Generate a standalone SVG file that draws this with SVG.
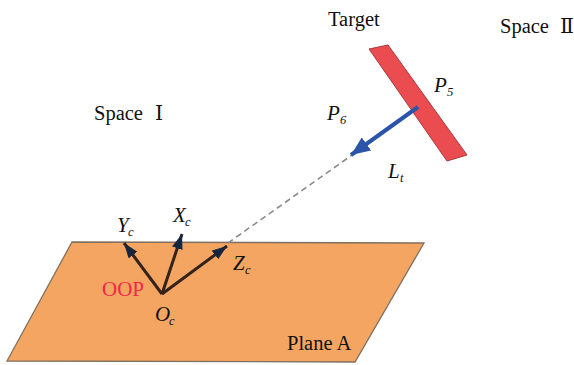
<svg xmlns="http://www.w3.org/2000/svg" width="574" height="365" viewBox="0 0 574 365">
<style>
text{font-family:"Liberation Serif","Times New Roman",serif;fill:#111}
.t{font-size:20.5px}
.i{font-size:21px;font-style:italic}
.s{font-size:12.5px;font-style:italic}
.r{font-family:"Liberation Serif","DejaVu Serif","Noto Sans CJK SC",serif}
.ax{stroke:#33231a;stroke-width:3;fill:none}
</style>
<defs>
<marker id="ah" markerUnits="userSpaceOnUse" markerWidth="16" markerHeight="12" refX="15" refY="6" orient="auto"><path d="M0 0.5L15 6L0 11.5Z" fill="#16263f"/></marker>
<marker id="bh" markerUnits="userSpaceOnUse" markerWidth="20" markerHeight="16" refX="19" refY="8" orient="auto"><path d="M0 0L19 8L0 16Z" fill="#2a55a8"/></marker>
</defs>
<rect width="574" height="365" fill="#fff"/>
<g id="plane-a"><polygon points="72,242 424,243 355,362 7,361" fill="#f4a561" stroke="#80705f" stroke-width="1.3"/><text class="t" x="287" y="350">Plane A</text></g>
<g id="target"><polygon points="369,49 388,45 467,155 447,161" fill="#ea4c50" stroke="#a8393d" stroke-width="1"/><text class="t" x="328" y="26">Target</text></g>
<g id="connectors">
<line x1="228" y1="243" x2="352" y2="155" stroke="#8a8a8a" stroke-width="1.6" stroke-dasharray="6 4"/>
<line x1="418" y1="107" x2="351" y2="155" stroke="#2a55a8" stroke-width="4" marker-end="url(#bh)"/>
<line class="ax" x1="162" y1="294" x2="124" y2="243" marker-end="url(#ah)"/>
<line class="ax" x1="162" y1="294" x2="182" y2="234" marker-end="url(#ah)"/>
<line class="ax" x1="162" y1="294" x2="227" y2="246" marker-end="url(#ah)"/>
</g>
<g id="space-1"><text class="t r" x="94" y="120">Space <tspan x="155">Ⅰ</tspan></text></g>
<g id="space-2"><text class="t r" x="500" y="33">Space <tspan x="560">Ⅱ</tspan></text></g>
<g id="p5"><text class="i" x="434" y="92">P</text><text class="s" x="447" y="96">5</text></g>
<g id="p6"><text class="i" x="327" y="120">P</text><text class="s" x="340" y="124">6</text></g>
<g id="lt"><text class="i" x="388" y="178">L</text><text class="s" x="400" y="182">t</text></g>
<g id="yc"><text class="i" x="117" y="232">Y</text><text class="s" x="128" y="236">c</text></g>
<g id="xc"><text class="i" x="173" y="222">X</text><text class="s" x="185" y="226">c</text></g>
<g id="zc"><text class="i" x="233" y="270">Z</text><text class="s" x="245" y="274">c</text></g>
<g id="oc"><text class="i" x="155" y="321">O</text><text class="s" x="169" y="325">c</text></g>
<g id="oop"><text x="102" y="296" font-size="21" style="fill:#f0284a">OOP</text></g>
</svg>
